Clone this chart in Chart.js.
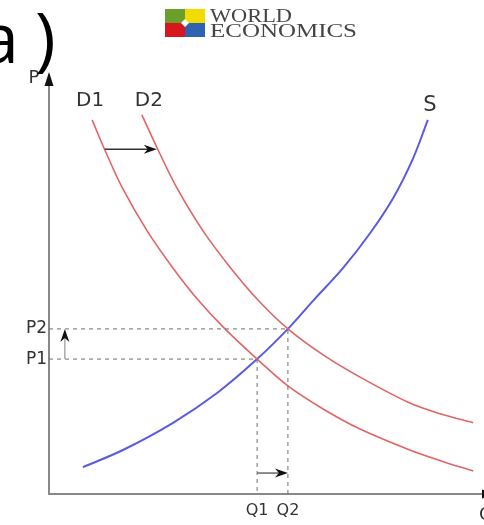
<!DOCTYPE html>
<html lang="en">
  <head>
    <meta charset="UTF-8">
    <title>Supply and demand shift</title>
    <script src="https://cdn.jsdelivr.net/npm/chart.js"></script>
    <style>
      html, body{margin: 0; padding: 0; background: #fff; overflow: hidden;}
      #wrap{width: 500px; height: 525px;}
    </style>
  </head>
  <body>
    <div id="wrap">
      <canvas id="myChart" width="500" height="525"></canvas>
    </div>
    <script>
      // curves (quantity, price)
      const supplyQ = [0.77, 1.68, 2.82, 3.82, 4.73, 5.43, 6.00, 6.68, 7.30, 7.82, 8.27, 8.61];
      const supplyP = [0.64, 1.05, 1.70, 2.41, 3.22, 3.94, 4.61, 5.39, 6.23, 7.06, 8.00, 8.93];
      const d1Q = [0.98, 1.27, 1.68, 2.23, 2.82, 3.39, 4.00, 4.73, 5.43, 6.23, 7.07, 8.20, 8.91, 9.64];
      const d1P = [8.93, 8.21, 7.28, 6.28, 5.39, 4.63, 3.94, 3.22, 2.58, 2.03, 1.55, 1.05, 0.79, 0.55];
      const d2Q = [2.11, 2.48, 2.91, 3.50, 4.11, 4.75, 5.43, 6.23, 7.07, 8.20, 8.91, 9.64];
      const d2P = [9.05, 8.21, 7.30, 6.28, 5.42, 4.63, 3.94, 3.32, 2.79, 2.17, 1.91, 1.70];

      // equilibrium ticks
      const priceLabels = ['P1', 'P2'];
      const priceVals = [3.22, 3.94];
      const qtyLabels = ['Q1', 'Q2'];
      const qtyVals = [4.73, 5.43];

      function pts(xs, ys){
        return xs.map(function(v, i){ return {x: v, y: ys[i]}; });
      }

      function arrow(ctx, x1, y1, x2, y2, shaft, head){
        const a = Math.atan2(y2 - y1, x2 - x1);
        const len = 13, w = 4.5;
        ctx.save();
        ctx.strokeStyle = shaft;
        ctx.lineWidth = 1.5;
        ctx.beginPath();
        ctx.moveTo(x1, y1);
        ctx.lineTo(x2 - Math.cos(a) * 6, y2 - Math.sin(a) * 6);
        ctx.stroke();
        ctx.translate(x2, y2);
        ctx.rotate(a);
        ctx.fillStyle = head;
        ctx.beginPath();
        ctx.moveTo(0, 0);
        ctx.lineTo(-len, -w);
        ctx.lineTo(-len + 4, 0);
        ctx.lineTo(-len, w);
        ctx.closePath();
        ctx.fill();
        ctx.restore();
      }

      const overlay = {
        id: 'overlay',
        afterDraw(chart){
          const ctx = chart.ctx;
          const x = chart.scales.x, y = chart.scales.y;
          const left = x.left, bottom = y.bottom;

          // axis heads
          ctx.save();
          ctx.fillStyle = '#111';
          ctx.beginPath();
          ctx.moveTo(left, 72); ctx.lineTo(left - 4.5, 86); ctx.lineTo(left + 4.5, 86);
          ctx.closePath(); ctx.fill();
          ctx.beginPath();
          ctx.moveTo(496, bottom); ctx.lineTo(482, bottom - 4.5); ctx.lineTo(482, bottom + 4.5);
          ctx.closePath(); ctx.fill();
          ctx.restore();

          // shift arrows
          arrow(ctx, x.getPixelForValue(1.27), y.getPixelForValue(8.23),
                x.getPixelForValue(2.45), y.getPixelForValue(8.23), '#333', '#111');
          arrow(ctx, x.getPixelForValue(0.36), y.getPixelForValue(priceVals[0]),
                x.getPixelForValue(0.36), y.getPixelForValue(priceVals[1]), '#aaa', '#111');
          arrow(ctx, x.getPixelForValue(qtyVals[0]), y.getPixelForValue(0.5),
                x.getPixelForValue(qtyVals[1]), y.getPixelForValue(0.5), '#666', '#111');

          // curve names and axis names
          ctx.save();
          ctx.fillStyle = '#333';
          ctx.textAlign = 'center';
          ctx.textBaseline = 'middle';
          ctx.font = '20px "DejaVu Sans"';
          ctx.fillText('D1', x.getPixelForValue(d1Q[0]) - 2, y.getPixelForValue(d1P[0]) - 19);
          ctx.fillText('D2', x.getPixelForValue(d2Q[0]) + 7, y.getPixelForValue(d2P[0]) - 14);
          ctx.font = '21px "DejaVu Sans"';
          ctx.fillText('S', x.getPixelForValue(supplyQ[supplyQ.length - 1]) + 2,
                       y.getPixelForValue(supplyP[supplyP.length - 1]) - 14);
          ctx.font = '18px "DejaVu Sans"';
          ctx.fillText('P', 34, 78);
          ctx.fillText('Q', 486, 515);
          ctx.restore();

          // big title fragment, cut at the left edge
          ctx.save();
          ctx.fillStyle = '#000';
          ctx.textBaseline = 'alphabetic';
          ctx.font = '70px "Open Sans"';
          ctx.fillText('a', -20, 63);
          ctx.fillText(')', 35, 63);
          ctx.restore();

          // logo
          ctx.save();
          ctx.fillStyle = '#6a9f2c'; ctx.fillRect(165, 9, 20, 14);
          ctx.fillStyle = '#f2dc00'; ctx.fillRect(185, 9, 20, 14);
          ctx.fillStyle = '#d8161d'; ctx.fillRect(165, 23, 20, 14);
          ctx.fillStyle = '#2d63b0'; ctx.fillRect(185, 23, 20, 14);
          ctx.fillStyle = '#fff';
          ctx.beginPath();
          ctx.moveTo(185, 19); ctx.lineTo(189, 23); ctx.lineTo(185, 27); ctx.lineTo(181, 23);
          ctx.closePath(); ctx.fill();
          ctx.fillStyle = '#444';
          ctx.font = '19px "Liberation Serif"';
          ctx.textBaseline = 'alphabetic';
          const w1 = ctx.measureText('WORLD').width;
          const w2 = ctx.measureText('ECONOMICS').width;
          ctx.save(); ctx.translate(210, 22); ctx.scale(82 / w1, 1); ctx.fillText('WORLD', 0, 0); ctx.restore();
          ctx.save(); ctx.translate(210, 37); ctx.scale(147 / w2, 1); ctx.fillText('ECONOMICS', 0, 0); ctx.restore();
          ctx.restore();
        }
      };

      const guide = {borderColor: '#6f6f6f', borderWidth: 1, borderDash: [4, 4], pointRadius: 0, tension: 0, showLine: true};

      new Chart(document.getElementById('myChart'), {
        type: 'scatter',
        data: {
          datasets: [
            Object.assign({data: [{x: 0, y: priceVals[1]}, {x: qtyVals[1], y: priceVals[1]}, {x: qtyVals[1], y: 0}]}, guide),
            Object.assign({data: [{x: 0, y: priceVals[0]}, {x: qtyVals[0], y: priceVals[0]}, {x: qtyVals[0], y: 0}]}, guide),
            {label: 'D1', data: pts(d1Q, d1P), borderColor: '#e26464', borderWidth: 1.6, showLine: true, pointRadius: 0, tension: 0.35},
            {label: 'D2', data: pts(d2Q, d2P), borderColor: '#e26464', borderWidth: 1.6, showLine: true, pointRadius: 0, tension: 0.35},
            {label: 'S', data: pts(supplyQ, supplyP), borderColor: '#5a5ae6', borderWidth: 2, showLine: true, pointRadius: 0, tension: 0.35}
          ]
        },
        options: {
          responsive: false,
          animation: false,
          layout: {padding: {top: 75, right: 11, left: 0, bottom: 0}},
          plugins: {legend: {display: false}, tooltip: {enabled: false}},
          scales: {
            x: {
              type: 'linear', min: 0, max: 10,
              grid: {display: false, drawTicks: false},
              border: {color: '#888', width: 2},
              afterBuildTicks: function(s){ s.ticks = qtyVals.map(function(v){ return {value: v}; }); },
              afterFit: function(s){ s.height = 31; },
              ticks: {
                padding: 7, maxRotation: 0, autoSkip: false, color: '#333',
                font: {family: 'DejaVu Sans', size: 16},
                callback: function(v, i){ return qtyLabels[i]; }
              }
            },
            y: {
              type: 'linear', min: 0, max: 10,
              grid: {display: false, drawTicks: false},
              border: {color: '#888', width: 2},
              afterBuildTicks: function(s){ s.ticks = priceVals.map(function(v){ return {value: v}; }); },
              afterFit: function(s){ s.width = 49; },
              ticks: {
                padding: 2, autoSkip: false, color: '#333',
                font: {family: 'DejaVu Sans', size: 17},
                callback: function(v, i){ return priceLabels[i]; }
              }
            }
          }
        },
        plugins: [overlay]
      });
    </script>
  </body>
</html>
